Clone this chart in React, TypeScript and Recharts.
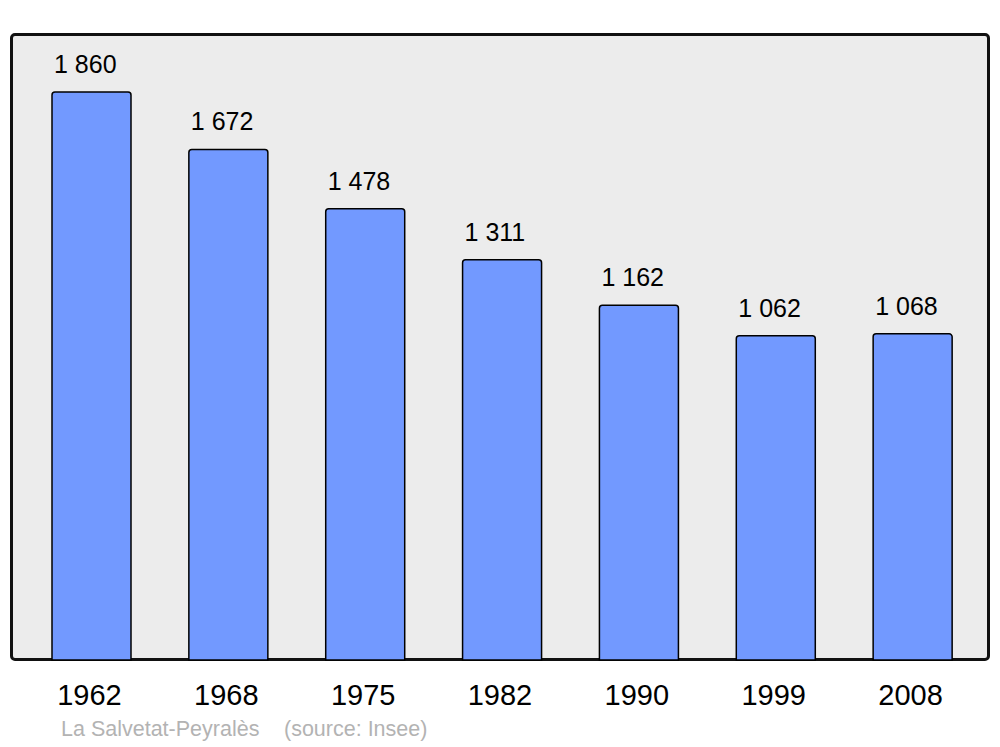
import { BarChart, Bar, XAxis, YAxis, LabelList } from "recharts";

const years = ["1962", "1968", "1975", "1982", "1990", "1999", "2008"];
const population = [1860, 1672, 1478, 1311, 1162, 1062, 1068];
const place = "La Salvetat-Peyralès";
const source = "(source: Insee)";

const data = years.map((year, i) => ({ year, value: population[i] }));

const fmt = (v: number) => String(v).replace(/\B(?=(\d{3})+(?!\d))/g, " ");

function YearTick(props: any) {
  const { x, y, payload } = props;
  return (
    <text x={x - 2} y={y + 37} textAnchor="middle" fontSize={29} fill="#000">
      {payload.value}
    </text>
  );
}

function ValueLabel(props: any) {
  const { x, y, value } = props;
  return (
    <text x={x + 2} y={y - 19} textAnchor="start" fontSize={25} fill="#000">
      {fmt(Number(value))}
    </text>
  );
}

export default function App() {
  return (
    <div
      style={{
        position: "absolute",
        left: 0,
        top: 0,
        width: 1000,
        height: 747,
        background: "#fff",
        fontFamily: "'Liberation Sans', Arial, sans-serif",
      }}
    >
      <div
        style={{
          position: "absolute",
          left: 10,
          top: 33,
          width: 980,
          height: 628,
          boxSizing: "border-box",
          border: "3px solid #111",
          borderRadius: 5,
          background: "#ececec",
        }}
      />
      <div style={{ position: "absolute", left: 0, top: 0 }}>
        <BarChart
          width={1000}
          height={747}
          data={data}
          margin={{ top: 34, right: 11, bottom: 0, left: 11 }}
        >
          <XAxis
            dataKey="year"
            height={87}
            axisLine={false}
            tickLine={false}
            padding={{ left: 12, right: 8 }}
            tick={<YearTick />}
            interval={0}
          />
          <YAxis hide domain={[0, 2050]} />
          <Bar
            dataKey="value"
            barSize={79}
            fill="#7299ff"
            stroke="#000"
            strokeWidth={1.5}
            radius={[3, 3, 0, 0]}
            isAnimationActive={false}
          >
            <LabelList dataKey="value" content={<ValueLabel />} />
          </Bar>
        </BarChart>
      </div>
      <div
        style={{
          position: "absolute",
          left: 61,
          top: 717,
          fontSize: 21.5,
          lineHeight: "normal",
          color: "#b3b3b3",
          whiteSpace: "nowrap",
        }}
      >
        {place}
      </div>
      <div
        style={{
          position: "absolute",
          left: 284,
          top: 717,
          fontSize: 21.5,
          lineHeight: "normal",
          color: "#b3b3b3",
          whiteSpace: "nowrap",
        }}
      >
        {source}
      </div>
    </div>
  );
}
